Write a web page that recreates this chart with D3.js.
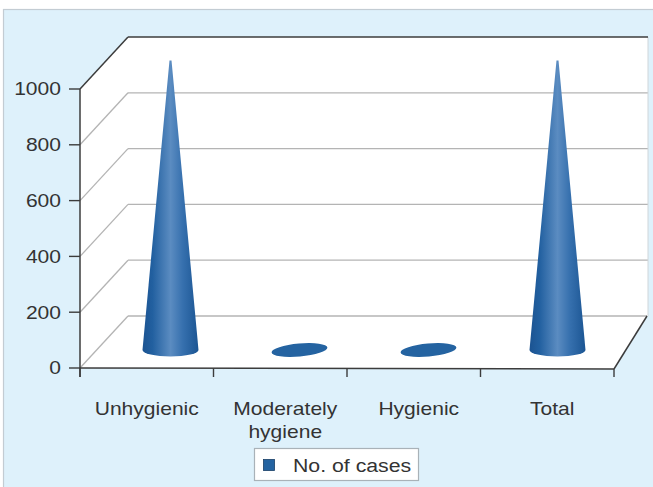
<!DOCTYPE html>
<html>
<head>
<meta charset="utf-8">
<script src="https://cdn.jsdelivr.net/npm/d3@7"></script>
<style>
  html, body { margin: 0; padding: 0; background: #ffffff; }
  svg { display: block; }
  text { font-family: "Liberation Sans", Arial, Helvetica, sans-serif; fill: #333333; }
</style>
</head>
<body>
<svg id="chart" width="653" height="487"></svg>
<script>
// Categories and case counts
const categories = ["Unhygienic", "Moderately hygiene", "Hygienic", "Total"];
const categoryLines = [["Unhygienic"], ["Moderately", "hygiene"], ["Hygienic"], ["Total"]];
const cases = [1005, 0, 0, 1005];
const yTicks = [0, 200, 400, 600, 800, 1000];
const seriesName = "No. of cases";

const svg = d3.select("#chart");

// Panel background
svg.append("rect")
  .attr("x", 3.5).attr("y", 9.5).attr("width", 660).attr("height", 490)
  .attr("fill", "#def1fb").attr("stroke", "#c3ccd3").attr("stroke-width", 1.2);

// 3D box geometry: front plane, back plane shifted up by the depth
const depthRise = 52;
const yFront = d3.scaleLinear().domain([0, 1000]).range([368, 89]);
const yBack = v => yFront(v) - depthRise;
const xFront = d3.scaleBand().domain(categories).range([80, 614]);
const xBack = d3.scaleBand().domain(categories).range([128, 647]);
const backRightWall = 648;

// Mark placement on the mid-depth plane
const xMid = d3.scaleBand().domain(categories).range([106, 622]);
const xMark = c => xMid(c) + xMid.bandwidth() / 2;
const yMark = d3.scaleLinear().domain([0, 1000]).range([350, 62]);

const gBox = svg.append("g");

// Walls and floor
gBox.append("rect")
  .attr("x", xBack.range()[0]).attr("y", yBack(1000))
  .attr("width", backRightWall - xBack.range()[0]).attr("height", yBack(0) - yBack(1000))
  .attr("fill", "#ffffff");
gBox.append("path")
  .attr("d", `M${xFront.range()[0]},${yFront(1000)} L${xBack.range()[0]},${yBack(1000)} L${xBack.range()[0]},${yBack(0)} L${xFront.range()[0]},${yFront(0)} Z`)
  .attr("fill", "#ffffff");
gBox.append("path")
  .attr("d", `M${xFront.range()[0]},${yFront(0)} L${xBack.range()[0]},${yBack(0)} L${xBack.range()[1]},${yBack(0)} L${xFront.range()[1]},${yFront(0) + 1} Z`)
  .attr("fill", "#ffffff");

// Back wall gridlines and side wall diagonals
const grid = "#b4b4b4";
yTicks.forEach(v => {
  if (v < 1000) {
    gBox.append("line")
      .attr("x1", xBack.range()[0]).attr("x2", v === 0 ? xBack.range()[1] : backRightWall)
      .attr("y1", yBack(v)).attr("y2", yBack(v))
      .attr("stroke", grid).attr("stroke-width", 1.3);
    gBox.append("line")
      .attr("x1", xFront.range()[0]).attr("y1", yFront(v))
      .attr("x2", xBack.range()[0]).attr("y2", yBack(v))
      .attr("stroke", grid).attr("stroke-width", 1.3);
  }
});
gBox.append("line")
  .attr("x1", backRightWall).attr("x2", backRightWall)
  .attr("y1", yBack(1000)).attr("y2", yBack(0))
  .attr("stroke", "#cfd6da").attr("stroke-width", 1);

// Dark frame edges
const dark = "#3c3c3c";
const frame = [
  [xFront.range()[0], yFront(1000), xBack.range()[0], yBack(1000)],
  [xBack.range()[0], yBack(1000), backRightWall, yBack(1000)],
  [xFront.range()[0], yFront(1000), xFront.range()[0], yFront(0) + 9],
  [xFront.range()[0], yFront(0), xFront.range()[1], yFront(0) + 1],
  [xFront.range()[1], yFront(0) + 1, xBack.range()[1], yBack(0)]
];
frame.forEach(f => gBox.append("line")
  .attr("x1", f[0]).attr("y1", f[1]).attr("x2", f[2]).attr("y2", f[3])
  .attr("stroke", dark).attr("stroke-width", 1.5));

// Value axis ticks and labels
yTicks.forEach(v => {
  gBox.append("line")
    .attr("x1", 69).attr("x2", xFront.range()[0])
    .attr("y1", yFront(v)).attr("y2", yFront(v))
    .attr("stroke", dark).attr("stroke-width", 1.4);
  gBox.append("text")
    .attr("transform", `translate(61,${yFront(v)}) scale(1.17,1)`)
    .attr("text-anchor", "end").attr("dy", "0.36em")
    .attr("font-size", 18)
    .text(v);
});

// Category ticks
const catEdges = categories.map(c => xFront(c)).concat([xFront.range()[1]]);
catEdges.forEach((x, i) => {
  gBox.append("line")
    .attr("x1", x).attr("x2", x)
    .attr("y1", yFront(0) + (i === 0 ? 0 : i / 4)).attr("y2", yFront(0) + 9)
    .attr("stroke", dark).attr("stroke-width", 1.4);
});

// Category labels
categories.forEach((c, i) => {
  const cx = xFront(c) + xFront.bandwidth() / 2 + (i === 0 ? 0 : 5);
  categoryLines[i].forEach((line, j) => {
    gBox.append("text")
      .attr("transform", `translate(${cx},${415 + j * 23}) scale(1.17,1)`)
      .attr("text-anchor", "middle")
      .attr("font-size", 18)
      .text(line);
  });
});

// Cone shading
const defs = svg.append("defs");
const grad = defs.append("linearGradient").attr("id", "coneFill")
  .attr("x1", "0%").attr("x2", "100%").attr("y1", "0%").attr("y2", "0%");
[["0%", "#1b5391"], ["18%", "#2260a0"], ["50%", "#5b8cc1"], ["72%", "#3670ae"], ["100%", "#1b5593"]]
  .forEach(s => grad.append("stop").attr("offset", s[0]).attr("stop-color", s[1]));

// Cones (zero values collapse to a flat disc on the floor)
const rx = 28, ry = 6.5;
const gMarks = svg.append("g");
categories.forEach((c, i) => {
  const cx = xMark(c);
  const base = yMark(0);
  const v = cases[i];
  if (v > 0) {
    const tip = yMark(v);
    gMarks.append("path")
      .attr("d", `M${cx - 1},${tip} L${cx + 1},${tip} L${cx + rx},${base} A${rx},${ry} 0 0 1 ${cx - rx},${base} Z`)
      .attr("fill", "url(#coneFill)");
  } else {
    gMarks.append("ellipse")
      .attr("cx", cx).attr("cy", base)
      .attr("rx", rx).attr("ry", ry)
      .attr("transform", `rotate(-5,${cx},${base})`)
      .attr("fill", "#2463a1");
  }
});

// Legend
const lg = svg.append("g");
lg.append("rect")
  .attr("x", 254.5).attr("y", 448.5).attr("width", 164).attr("height", 32)
  .attr("fill", "#ffffff").attr("stroke", "#a9b2b8").attr("stroke-width", 1.2);
lg.append("rect")
  .attr("x", 263.5).attr("y", 459.5).attr("width", 11).attr("height", 11)
  .attr("fill", "#2463a1").attr("stroke", "#1a3f66").attr("stroke-width", 0.8);
lg.append("text")
  .attr("transform", "translate(293,472) scale(1.12,1)")
  .attr("font-size", 19)
  .text(seriesName);
</script>
</body>
</html>
